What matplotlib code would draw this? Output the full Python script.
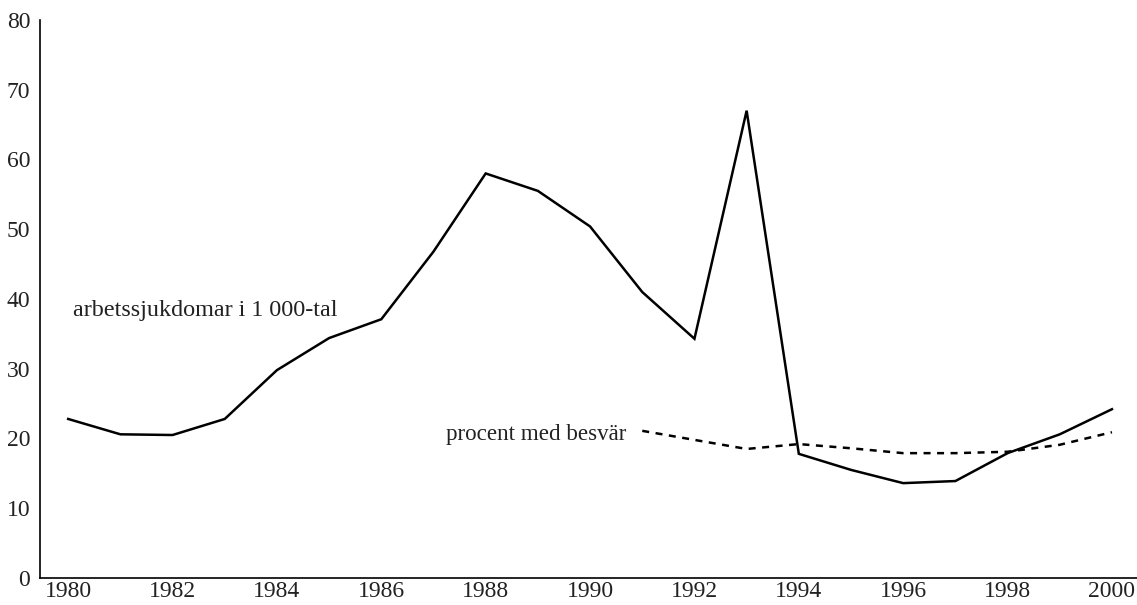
import matplotlib
matplotlib.use("Agg")
import matplotlib.pyplot as plt

plt.rcParams["font.family"] = ["Liberation Serif", "DejaVu Serif"]

# ============ 数据 ============
years = list(range(1980, 2001))
sjukdomar = [22.8, 20.6, 20.5, 22.8, 29.8, 34.4, 37.1, 46.8, 58.0, 55.5,
             50.4, 41.0, 34.3, 67.0, 17.8, 15.5, 13.6, 13.9, 17.9, 20.6, 24.2]
besvar_years = list(range(1991, 2001))
besvar = [21.1, 19.8, 18.5, 19.2, 18.6, 17.9, 17.9, 18.1, 19.1, 20.9]
xticks = list(range(1980, 2001, 2))
yticks = list(range(0, 81, 10))

fig = plt.figure(figsize=(11.37, 6.05), dpi=100)
ax = fig.add_axes([40 / 1137, 1 - 578 / 605, 1 - 40 / 1137, (578 - 20) / 605])

ax.plot(years, sjukdomar, color="black", linewidth=1.8, solid_joinstyle="miter")
ax.plot(besvar_years, besvar, color="black", linewidth=1.8,
        linestyle=(0, (2.8, 2.6)))

ax.text(1980.1, 38.4, "arbetssjukdomar i 1 000-tal", fontsize=17.4,
        color="#222222", va="center", ha="left")
ax.text(1990.7, 20.6, "procent med besvär", fontsize=16.6,
        color="#222222", va="center", ha="right")

ax.set_xlim(1979.46, 2000.48)
ax.set_ylim(0, 80)
ax.set_xticks(xticks)
ax.set_yticks(yticks)
ax.tick_params(length=0, labelsize=17, labelcolor="#222222")
ax.tick_params(axis="x", pad=2.5)
ax.tick_params(axis="y", pad=7)
for side in ("top", "right"):
    ax.spines[side].set_visible(False)
for side in ("left", "bottom"):
    ax.spines[side].set_linewidth(1.2)
ax.patch.set_alpha(0)

plt.savefig("out.png", dpi=100, facecolor="white")
